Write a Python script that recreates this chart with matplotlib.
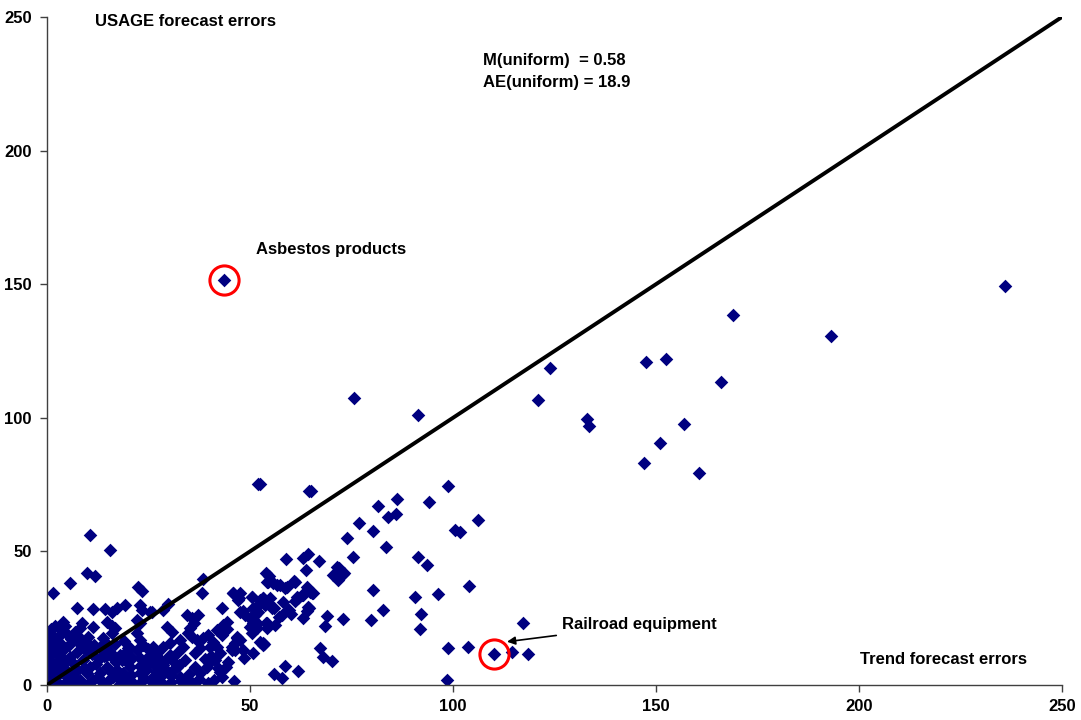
import matplotlib.pyplot as plt

plt.rcParams['font.family'] = ['Liberation Sans', 'DejaVu Sans']
plt.rcParams['font.weight'] = 'bold'

# trend forecast error (x) vs USAGE forecast error (y), per industry
# dense group near the origin
cluster_x = [0.0, 0.7, 1.6, 0.7, 1.2, 0.7, 1.2, 0.7, 1.6, 2.8, 3.2, 4.0, 3.2, 2.4, 4.0, 3.2, 4.8,
             5.7, 6.5, 7.3, 6.1, 8.1, 9.8, 10.6, 8.9, 11.4, 13.1, 14.7, 13.9, 16.3, 18.8, 17.2,
             20.4, 19.6, 21.3, 22.9, 24.5, 23.7, 26.2, 27.0, 25.4, 3.2, 6.5, 9.8, 18.0, 22.9,
             27.8, 0.3, 0.2, 0.5, 2.0, 5.0, 7.5, 9.5, 11.0, 12.0, 10.0, 5.5, 3.5, 8.0, 12.5,
             15.0, 17.0, 19.5, 21.0, 25.0, 28.0, 26.0, 29.0, 29.5, 14.0, 15.5, 8.7, 2.0, 1.0,
             1.8, 4.6, 6.8, 9.0, 12.8, 15.8, 18.5, 20.8, 24.0, 26.8, 30.5, 32.5, 35.0, 37.5,
             40.0, 42.5, 2.5, 5.2, 7.8, 11.5, 14.5, 17.8, 20.0, 23.0, 27.5, 31.5, 34.2, 38.8,
             41.2, 44.0, 0.4, 3.0, 6.0, 10.2, 13.5, 16.8, 19.0, 24.8]
cluster_y = [0.0, 19.3, 16.8, 14.3, 11.9, 9.4, 6.9, 4.4, 1.9, 18.1, 15.6, 13.1, 10.6, 8.1, 6.9,
             4.4, 3.1, 10.6, 8.1, 5.6, 4.4, 1.9, 4.4, 6.9, 9.4, 1.9, 4.4, 6.9, 0.6, 3.1, 4.4,
             5.6, 6.9, 1.9, 0.6, 4.4, 5.6, 1.9, 3.1, 6.9, 8.1, 0.0, 0.0, 0.0, 0.3, 0.0, 0.2,
             12.5, 17.5, 2.5, 0.8, 1.5, 12.5, 13.0, 11.5, 8.0, 15.5, 15.0, 20.5, 21.5, 3.0,
             1.5, 8.5, 12.5, 10.0, 11.0, 3.5, 0.8, 9.0, 5.0, 11.0, 12.5, 16.0, 22.0, 20.8,
             6.0, 8.8, 2.8, 6.2, 9.8, 4.8, 9.2, 3.6, 2.6, 5.2, 3.8, 7.6, 4.2, 2.2,
             8.4, 4.8, 13.6, 18.6, 15.8, 14.8, 10.8, 2.4, 13.8, 7.2, 10.2, 6.4, 1.2, 9.6,
             1.8, 6.6, 7.2, 11.2, 17.2, 17.8, 13.2, 15.2, 16.6, 13.6]

# upper-left scatter, x below 30
left_x = [10.6, 15.5, 9.9, 11.8, 5.7, 1.5, 22.4, 23.4, 7.4, 11.3, 14.3, 16.0, 17.2, 19.2,
          22.9, 23.4, 25.9, 3.9, 4.4, 8.6, 11.3, 14.8, 16.0, 16.7, 22.2, 22.9, 16.0, 22.2,
          6.9, 6.2, 8.1, 8.6, 13.8, 14.8, 13.1, 22.9, 23.6, 20.4, 22.2, 26.1, 27.1, 18.0,
          19.2, 16.0, 22.9, 24.6]
left_y = [56.0, 50.5, 41.9, 40.8, 38.2, 34.4, 36.7, 35.2, 28.8, 28.4, 28.4, 27.3, 28.8, 29.9,
          29.9, 28.1, 27.3, 23.6, 22.1, 23.2, 21.7, 23.6, 22.1, 21.3, 24.3, 23.2, 19.5, 19.5,
          19.8, 18.0, 17.6, 14.6, 17.6, 15.3, 14.2, 16.8, 15.0, 13.8, 13.1, 14.2, 12.0, 11.2,
          9.4, 10.5, 10.1, 8.2]

# middle band, x 25 to 55
mid_x = [38.4, 38.2, 25.4, 28.6, 29.8, 45.8, 47.3, 50.5, 53.2, 53.9, 43.1, 34.5, 35.7, 37.2,
         36.2, 35.2, 29.6, 30.8, 47.5, 48.8, 50.0, 50.7, 51.7, 50.5, 44.3, 43.3, 41.9, 43.1,
         44.3, 39.7, 38.4, 46.8, 45.6, 46.3, 40.9, 41.9, 40.1, 36.9, 35.7, 34.7, 37.7, 36.5,
         32.8, 33.5, 30.3, 28.6, 41.4, 42.1, 43.1, 39.4, 36.5, 39.7, 34.5, 35.7, 32.0, 32.8,
         37.7, 27.1, 28.6, 29.8, 27.1, 28.3, 30.3, 32.0, 26.1, 53.9, 54.4, 52.5, 53.2, 50.7,
         48.3, 47.5, 47.0, 45.8, 47.5, 50.5, 48.3, 50.7, 52.0, 51.2, 50.5, 51.7, 50.0, 46.8,
         46.3, 45.6, 31.0, 33.0, 40.5, 44.5, 48.5, 46.0, 42.5, 30.5, 34.0]
mid_y = [39.7, 34.4, 27.3, 28.1, 30.3, 34.4, 32.6, 32.9, 32.6, 30.7, 28.8, 26.2, 25.1, 26.2,
         23.2, 21.3, 21.7, 19.8, 27.3, 26.2, 25.1, 23.2, 21.3, 19.5, 23.6, 22.5, 20.6, 18.7,
         21.0, 18.7, 17.6, 17.6, 14.2, 13.1, 16.1, 14.2, 14.2, 16.8, 18.0, 19.5, 13.8, 12.0,
         16.8, 14.2, 15.7, 14.2, 9.4, 6.4, 3.0, 6.7, 6.7, 0.7, 2.6, 0.7, 6.7, 3.0,
         4.5, 9.4, 7.5, 4.9, 3.0, 0.7, 11.2, 12.0, 13.1, 41.9, 38.5, 16.1, 15.0, 12.0,
         13.1, 16.8, 31.8, 34.4, 34.4, 32.9, 27.7, 28.8, 27.3, 26.2, 24.3, 23.2, 21.7, 18.0,
         15.7, 13.1, 9.0, 1.5, 11.0, 8.5, 10.0, 1.5, 12.0, 1.0, 9.5]

# right of the main cluster, x 50 to 85
band_x = [52.5, 64.5, 58.9, 63.0, 64.3, 63.8, 67.0, 76.8, 80.3, 73.9, 81.5, 75.4, 71.9, 70.9,
          72.9, 71.7, 80.3, 79.8, 72.9, 69.0, 68.5, 67.2, 68.0, 70.2, 58.6, 61.8, 55.9, 57.9,
          54.7, 54.2, 55.7, 57.4, 59.1, 60.8, 64.0, 64.8, 63.0, 61.8, 61.1, 65.5, 53.2, 52.5,
          58.1, 55.4, 55.9, 59.4, 60.1, 57.1, 64.5, 64.0, 63.0, 53.9, 54.2, 56.2, 53.4, 54.9,
          52.5, 53.7, 55.4, 57.9, 59.6, 61.6, 62.8, 65.3, 64.3, 61.1, 54.9, 56.7, 58.6, 54.2,
          53.2, 71.4, 73.2, 70.4, 84.0, 86.0, 86.2]
band_y = [75.2, 72.6, 47.0, 47.5, 48.9, 43.0, 46.4, 60.6, 57.6, 55.0, 67.0, 48.0, 43.8, 40.8,
          41.5, 39.3, 35.6, 24.3, 24.7, 25.8, 22.0, 13.8, 10.5, 9.0, 7.1, 5.2, 4.1, 2.6,
          40.8, 38.5, 38.2, 37.4, 36.7, 38.9, 36.7, 34.8, 33.7, 32.6, 31.4, 34.4, 32.6, 30.7,
          31.1, 29.2, 28.8, 28.1, 26.6, 25.4, 28.8, 27.7, 25.1, 23.2, 21.3, 22.5, 15.3, 32.6,
          31.8, 29.9, 28.8, 26.2, 28.1, 32.9, 33.7, 34.4, 29.2, 38.5, 39.3, 37.4, 36.3, 23.2,
          15.7, 44.1, 41.9, 41.2, 62.9, 64.0, 69.6]

# sparse points, x above 75
far_x = [98.8, 94.1, 83.5, 91.4, 93.6, 100.5, 101.7, 106.2, 103.9, 90.6, 96.3, 82.8, 92.1,
         91.9, 117.2, 98.8, 103.7, 110.1, 114.5, 118.5, 98.5, 236.0, 43.5, 169.0, 193.0,
         124.0, 147.5, 152.5, 166.0, 121.0, 133.0, 133.5, 157.0, 151.0, 147.0, 160.5, 91.5,
         75.5, 52.0, 65.0]
far_y = [74.5, 68.5, 51.6, 47.9, 44.9, 58.0, 57.3, 61.8, 37.0, 33.0, 34.0, 28.1, 26.6,
         21.0, 23.2, 13.8, 14.2, 11.6, 12.3, 11.6, 1.9, 149.5, 151.5, 138.5, 130.5,
         118.5, 121.0, 122.0, 113.5, 106.5, 99.5, 97.0, 97.8, 90.5, 83.0, 79.2, 101.0,
         107.5, 75.2, 72.6]

trend_err = cluster_x + left_x + mid_x + band_x + far_x
usage_err = cluster_y + left_y + mid_y + band_y + far_y

highlights = {'Asbestos products': (43.5, 151.5), 'Railroad equipment': (110.1, 11.6)}

fig = plt.figure(figsize=(10.81, 7.2), dpi=100)
ax = fig.add_axes([0.0435, 0.0486, 0.9389, 0.9278])

ax.plot([0, 250], [0, 250], color='black', lw=2.8, zorder=3)
ax.scatter(trend_err, usage_err, marker='D', s=48, color='#000080', linewidths=0, zorder=2)

for name, (hx, hy) in highlights.items():
    ax.plot(hx, hy, 'o', ms=21, mfc='none', mec='#ff0000', mew=2.2, zorder=4)

ax.set_xlim(0, 250)
ax.set_ylim(0, 250)
ax.set_xticks(range(0, 251, 50))
ax.set_yticks(range(0, 251, 50))
ax.tick_params(direction='out', length=5, width=1, labelsize=12, color='#404040')
ax.tick_params(axis='x', pad=5)
ax.tick_params(axis='y', pad=6)
for side in ['top', 'right']:
    ax.spines[side].set_visible(False)
for side in ['left', 'bottom']:
    ax.spines[side].set_color('#404040')
    ax.spines[side].set_linewidth(1)

txt = dict(fontsize=12, fontweight='bold', va='center', ha='left')
ax.text(11.8, 248.5, 'USAGE forecast errors', **txt)
ax.text(107.4, 233.9, 'M(uniform)  = 0.58', **txt)
ax.text(107.4, 225.3, 'AE(uniform) = 18.9', **txt)
ax.text(51.5, 162.8, 'Asbestos products', **txt)
ax.text(200.2, 9.4, 'Trend forecast errors', **txt)
ax.annotate('Railroad equipment', xy=(113.3, 16.2), xytext=(126.8, 22.5),
            arrowprops=dict(arrowstyle='-|>', color='black', lw=1.2, mutation_scale=12,
                            shrinkA=2, shrinkB=0),
            **txt)

fig.savefig('out.png', dpi=100)
